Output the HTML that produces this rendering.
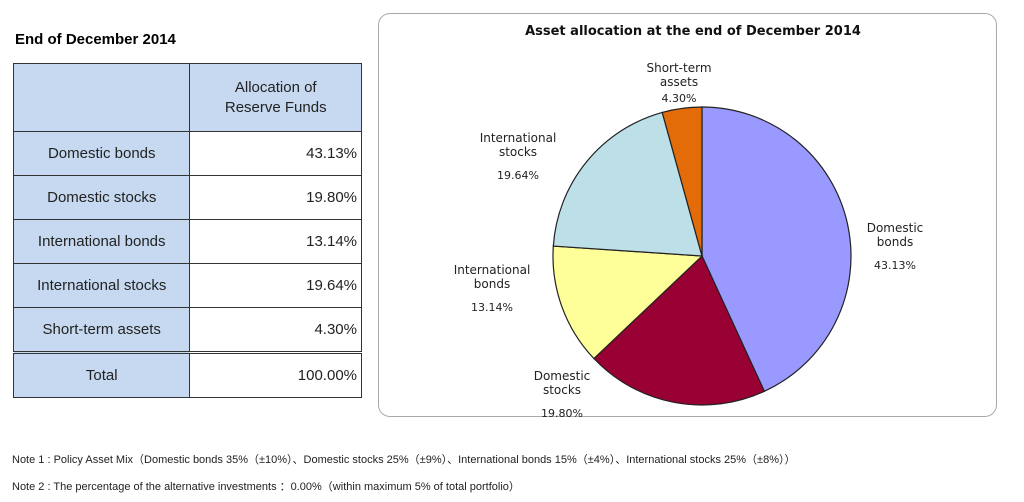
<!DOCTYPE html>
<html><head><meta charset="utf-8"><style>
body{margin:0;width:1024px;height:502px;background:#fff;position:relative;overflow:hidden;font-family:"Liberation Sans",Arial,sans-serif;}
.abs{position:absolute;}
table{border-collapse:collapse;position:absolute;left:13px;top:63px;width:349px;}
td{border:1px solid #333;font-size:15px;color:#222;height:43px;padding:0;}
td.l{background:#c6d9f0;text-align:center;width:212px;}
td.r{background:#fff;text-align:right;padding-right:4px;}
tr.h td{height:67px;}
tr.t td{border-top:3px double #333;}
.note{font-size:11px;color:#222;left:12px;}
</style></head><body>
<div class="abs" style="left:15px;top:31px;font-weight:bold;font-size:15px;">End of December 2014</div>
<table>
<tr class="h"><td class="l"></td><td class="l" style="background:#c6d9f0;line-height:20px">Allocation of<br>Reserve Funds</td></tr>
<tr><td class="l">Domestic bonds</td><td class="r">43.13%</td></tr>
<tr><td class="l">Domestic stocks</td><td class="r">19.80%</td></tr>
<tr><td class="l">International bonds</td><td class="r">13.14%</td></tr>
<tr><td class="l">International stocks</td><td class="r">19.64%</td></tr>
<tr><td class="l">Short-term assets</td><td class="r">4.30%</td></tr>
<tr class="t"><td class="l">Total</td><td class="r">100.00%</td></tr>
</table>
<div class="abs" style="left:378px;top:13px;width:617px;height:402px;border:1px solid #aaa;border-radius:12px;"></div>
<svg class="abs" style="left:0;top:0" width="1024" height="502" id="pie">
<text x="693" y="35" text-anchor="middle" font-weight="bold" font-size="13" font-family="DejaVu Sans, sans-serif" fill="#111">Asset allocation at the end of December 2014</text>
</svg>
<div class="abs note" style="top:451px;">Note 1 : Policy Asset Mix（Domestic bonds 35%（±10%）、Domestic stocks 25%（±9%）、International bonds 15%（±4%）、International stocks 25%（±8%））</div>
<div class="abs note" style="top:478px;">Note 2 : The percentage of the alternative investments ：0.00%（within maximum 5% of total portfolio）</div>
<script>
const categories=["Domestic bonds","Domestic stocks","International bonds","International stocks","Short-term assets"];
const values=[43.13,19.80,13.14,19.64,4.30];
const valueLabels=["43.13%","19.80%","13.14%","19.64%","4.30%"];
const colors=["#9999ff","#990033","#ffff99","#bde0e8","#e36c09"];
const labelPos=[[895,232],[562,380],[492,274],[518,142],[679,72]];
const svg=document.getElementById('pie');
const NS="http://www.w3.org/2000/svg";
const cx=702,cy=256,r=149;
const total=values.reduce((a,b)=>a+b,0);
let a0=0;
values.forEach((v,i)=>{
  const a1=a0+v/total*2*Math.PI;
  const x0=cx+r*Math.sin(a0),y0=cy-r*Math.cos(a0),x1=cx+r*Math.sin(a1),y1=cy-r*Math.cos(a1);
  const p=document.createElementNS(NS,'path');
  p.setAttribute('d',`M${cx},${cy}L${x0},${y0}A${r},${r} 0 ${a1-a0>Math.PI?1:0} 1 ${x1},${y1}Z`);
  p.setAttribute('fill',colors[i]);p.setAttribute('stroke','#222');p.setAttribute('stroke-width','1.2');
  
  
  svg.appendChild(p);
  a0=a1;
});
categories.forEach((c,i)=>{
  const words=c==="Short-term assets"?["Short-term","assets"]:c.split(" ");
  const t=document.createElementNS(NS,'text');
  t.setAttribute('text-anchor','middle');t.setAttribute('font-size','12');
  t.setAttribute('font-family','DejaVu Sans, sans-serif');t.setAttribute('fill','#222');
  
  
  const [x,y]=labelPos[i];
  words.forEach((w,k)=>{const s=document.createElementNS(NS,'tspan');s.setAttribute('x',x);s.setAttribute('y',y+k*14);s.textContent=w;t.appendChild(s);});
  const s=document.createElementNS(NS,'tspan');s.setAttribute('x',x);s.setAttribute('y',y+(i===4?30:37));s.setAttribute('font-size','11');s.textContent=valueLabels[i];t.appendChild(s);
  svg.appendChild(t);
});
</script>
</body></html>
